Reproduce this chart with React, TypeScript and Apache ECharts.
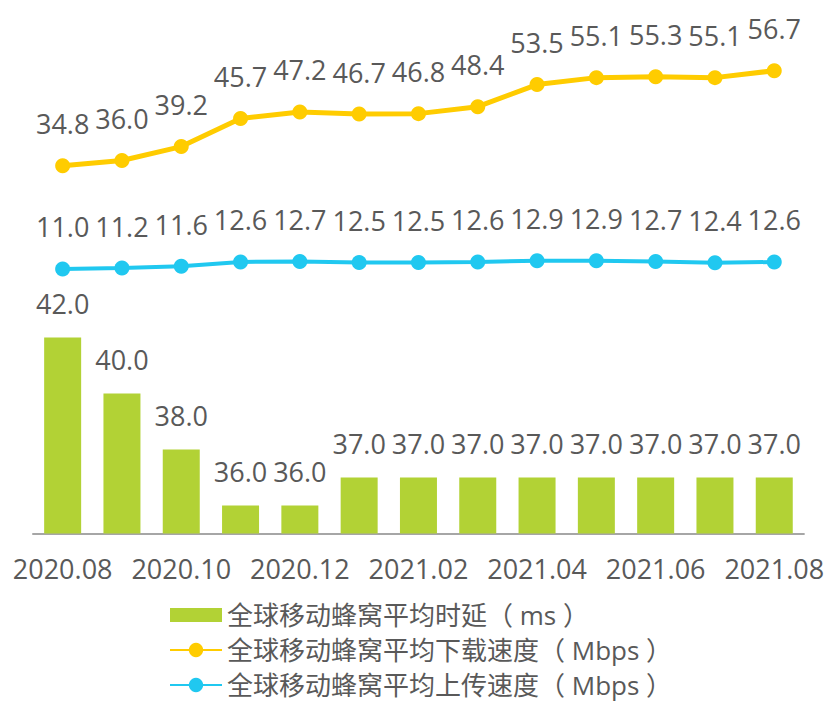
import React, { useEffect, useRef } from "react";
import * as echarts from "echarts";

const categories = [
  "2020.08", "2020.09", "2020.10", "2020.11", "2020.12", "2021.01", "2021.02",
  "2021.03", "2021.04", "2021.05", "2021.06", "2021.07", "2021.08",
];
const latency = [42.0, 40.0, 38.0, 36.0, 36.0, 37.0, 37.0, 37.0, 37.0, 37.0, 37.0, 37.0, 37.0];
const download = [34.8, 36.0, 39.2, 45.7, 47.2, 46.7, 46.8, 48.4, 53.5, 55.1, 55.3, 55.1, 56.7];
const upload = [11.0, 11.2, 11.6, 12.6, 12.7, 12.5, 12.5, 12.6, 12.9, 12.9, 12.7, 12.4, 12.6];

const seriesNames = [
  "全球移动蜂窝平均时延（ ms ）",
  "全球移动蜂窝平均下载速度（ Mbps ）",
  "全球移动蜂窝平均上传速度（ Mbps ）",
];

const FONT = "'Open Sans', 'Noto Sans CJK SC', sans-serif";
const TEXT = "#595959";
const GREEN = "#B2D235";
const YELLOW = "#FFCC00";
const CYAN = "#20C8F0";

export default function App() {
  const ref = useRef<HTMLDivElement>(null);
  useEffect(() => {
    document.body.style.margin = "0";
    const chart = echarts.init(ref.current!, null, { renderer: "svg" });
    const label = {
      show: true,
      position: "top",
      distance: 21,
      color: TEXT,
      fontSize: 27,
      fontFamily: FONT,
      formatter: (p: any) => Number(p.value).toFixed(1),
    };
    chart.setOption({
      animation: false,
      textStyle: { fontFamily: FONT },
      grid: { left: 33, right: 20, top: 13, height: 520.5 },
      legend: {
        orient: "vertical",
        left: 169,
        top: 602,
        width: 600,
        height: 100,
        padding: 0,
        itemWidth: 52,
        itemHeight: 18,
        itemGap: 9,
        itemTextGap: 5,
        textStyle: { color: TEXT, fontSize: 26, fontFamily: FONT },
        data: [
          { name: seriesNames[0], icon: "path://M0,0H52V14H0Z" },
          { name: seriesNames[1] },
          { name: seriesNames[2] },
        ],
      },
      xAxis: {
        type: "category",
        data: categories,
        axisTick: { show: false },
        axisLine: { onZero: false, lineStyle: { color: "#A6A6A6", width: 2 } },
        axisLabel: {
          interval: 1,
          color: TEXT,
          fontSize: 27,
          fontFamily: FONT,
          margin: 21,
        },
      },
      yAxis: [
        { type: "value", min: 35, max: 35 + 520.5 / 28, show: false, splitLine: { show: false } },
        { type: "value", min: -50, max: 70, show: false, splitLine: { show: false } },
      ],
      series: [
        {
          name: seriesNames[0],
          type: "bar",
          yAxisIndex: 0,
          data: latency,
          barWidth: 37,
          itemStyle: { color: GREEN },
          label,
        },
        {
          name: seriesNames[1],
          type: "line",
          yAxisIndex: 1,
          data: download,
          symbol: "circle",
          symbolSize: 15,
          lineStyle: { color: YELLOW, width: 5 },
          itemStyle: { color: YELLOW },
          label,
        },
        {
          name: seriesNames[2],
          type: "line",
          yAxisIndex: 1,
          data: upload,
          symbol: "circle",
          symbolSize: 15,
          lineStyle: { color: CYAN, width: 4 },
          itemStyle: { color: CYAN },
          label,
        },
      ],
    });
    return () => chart.dispose();
  }, []);
  return <div ref={ref} style={{ width: 827, height: 704 }} />;
}
